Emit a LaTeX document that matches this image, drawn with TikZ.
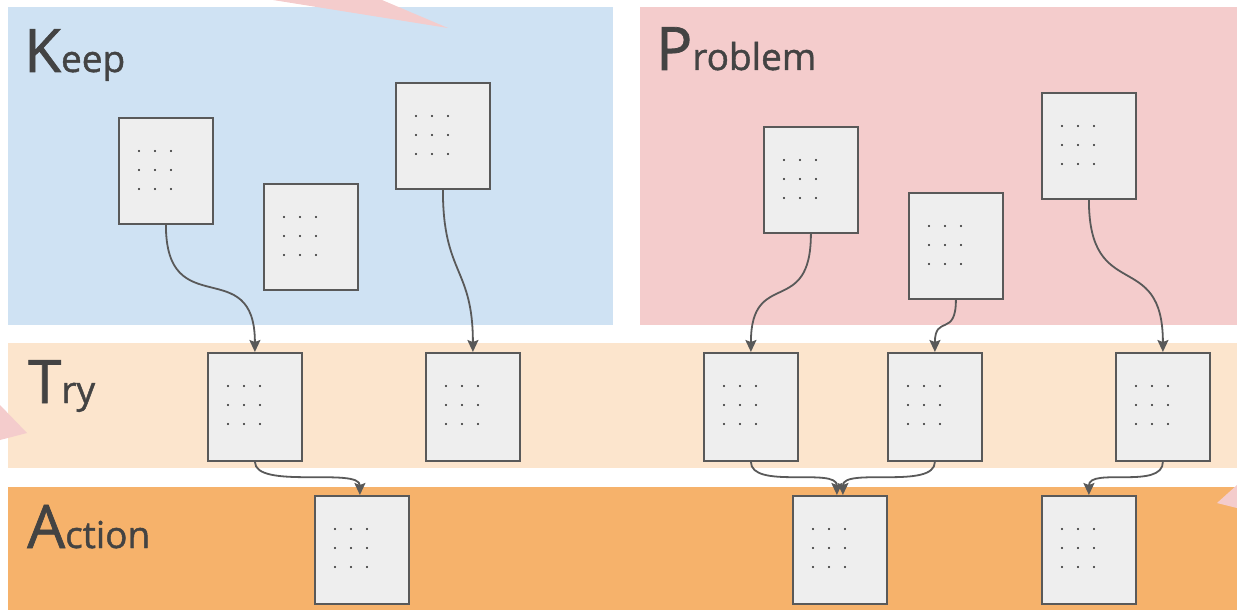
\documentclass[tikz,border=0pt]{standalone}
\usepackage{fontspec}
\setmainfont{Open Sans}
\newfontfamily\titlefont[FakeBold=1.2]{Open Sans}
\usetikzlibrary{arrows.meta}
\definecolor{keepc}{HTML}{CFE2F3}
\definecolor{probc}{HTML}{F4CCCC}
\definecolor{tryc}{HTML}{FCE5CD}
\definecolor{actc}{HTML}{F6B26B}
\definecolor{cardc}{HTML}{EEEEEE}
\definecolor{linec}{HTML}{595959}
\definecolor{textc}{HTML}{434343}
\newcommand\griddots[1]{%
  \foreach \dx in {21,37,53}{\foreach \dy in {34,53,72}{%
    \fill[black!85] ([shift={(\dx,\dy)}]#1.north west) circle (1.1);}}}
\newcommand\biglabel[2]{{\titlefont\fontsize{60}{60}\selectfont #1}{\titlefont\fontsize{37}{37}\selectfont #2}}
\begin{document}
\begin{tikzpicture}[x=1pt,y=-1pt,
  card/.style={draw=linec, fill=cardc, line width=1.8pt, minimum width=94pt, minimum height=106pt, anchor=north west, inner sep=0pt},
  conn/.style={draw=linec, line width=1.8pt, -{Stealth[length=12pt,width=11pt,inset=2pt]}},
  title/.style={anchor=base west, inner sep=0pt, text=textc}]
\useasboundingbox (0,0) rectangle (1237,610);
% panels
\fill[keepc] (8,7) rectangle (613,325);
\fill[probc] (640,7) rectangle (1237,325);
\fill[tryc] (8,343) rectangle (1237,468);
\fill[actc] (8,487) rectangle (1237,610);
% pink shapes
\fill[probc] (448,28) -- (273,0) -- (382,0) -- cycle;
\fill[probc] (0,405) -- (27,433) -- (0,440) -- cycle;
\fill[probc] (1217,503) -- (1237,485) -- (1237,508) -- cycle;
% titles
\node[title] (tk) at (24,72) {\biglabel{K}{eep}};
\node[title] (tp) at (656,70) {\biglabel{P}{roblem}};
\node[title] (tt) at (28,403) {\biglabel{T}{ry}};
\node[title] (ta) at (27,548) {\biglabel{A}{ction}};
% cards
\node[card] (k1) at (118,117) {};
\node[card] (k2) at (263,183) {};
\node[card] (k3) at (395,82) {};
\node[card] (p1) at (763,126) {};
\node[card] (p2) at (908,192) {};
\node[card] (p3) at (1041,92) {};
\node[card, minimum height=108pt] (t1) at (207,352) {};
\node[card, minimum height=108pt] (t2) at (425,352) {};
\node[card, minimum height=108pt] (t3) at (703,352) {};
\node[card, minimum height=108pt] (t4) at (887,352) {};
\node[card, minimum height=108pt] (t5) at (1115,352) {};
\node[card, minimum height=108pt] (a1) at (314,495) {};
\node[card, minimum height=108pt] (a2) at (792,495) {};
\node[card, minimum height=108pt] (a3) at (1041,495) {};
\foreach \n in {k1,k2,k3,p1,p2,p3,t1,t2,t3,t4,t5,a1,a2,a3}{\griddots{\n}}
% connectors
\draw[conn] (k1.south) .. controls +(0,100) and +(0,-100) .. (t1.north);
\draw[conn] (k3.south) .. controls +(0,85) and +(0,-85) .. (t2.north);
\draw[conn] (p1.south) .. controls +(0,85) and +(0,-85) .. (t3.north);
\draw[conn] (p2.south) .. controls +(0,38) and +(0,-38) .. (t4.north);
\draw[conn] (p3.south) .. controls +(0,105) and +(0,-105) .. (t5.north);
\draw[conn] (t1.south) .. controls +(0,28) and +(0,-28) .. ([xshift=-2pt]a1.north);
\draw[conn] (t3.south) .. controls +(0,28) and +(0,-28) .. ([xshift=-3pt]a2.north);
\draw[conn] (t4.south) .. controls +(0,28) and +(0,-28) .. ([xshift=3pt]a2.north);
\draw[conn] (t5.south) .. controls +(0,28) and +(0,-28) .. (a3.north);
\end{tikzpicture}
\end{document}
